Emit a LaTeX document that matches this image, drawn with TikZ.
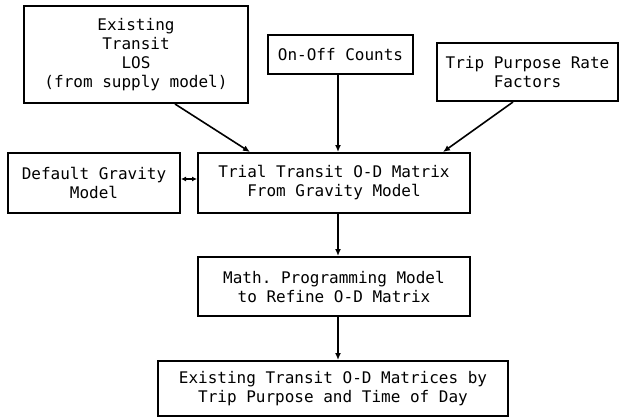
\documentclass[tikz,border=0pt]{standalone}
\usepackage{fontspec}
\setmonofont{DejaVu Sans Mono}
\usetikzlibrary{arrows.meta,positioning}

\begin{document}
\begin{tikzpicture}
[x=1pt,y=-1pt,
box/.style={draw=black,line width=2pt,align=center,inner sep=2pt,
  font=\ttfamily\fontsize{16}{19}\selectfont},
flow/.style={line width=1.6pt,-{Latex[length=7pt,width=6pt]}}]

\useasboundingbox (0,0) rectangle (619,418);

\node[box,minimum width=224pt,minimum height=97pt] (los) at (136,54.5)
  {Existing\\Transit\\LOS\\(from supply model)};
\node[box,minimum width=145pt,minimum height=39pt] (counts) at (340.5,54.5)
  {On-Off Counts};
\node[box,minimum width=181pt,minimum height=58pt] (purpose) at (527.5,72)
  {Trip Purpose Rate\\Factors};

\node[box,minimum width=172pt,minimum height=60pt] (gravity) at (94,183)
  {Default Gravity\\Model};
\node[box,minimum width=272pt,minimum height=60pt] (trial) at (334,183)
  {Trial Transit O-D Matrix\\From Gravity Model};

\node[box,minimum width=272pt,minimum height=59pt] (math) at (334,286.5)
  {Math. Programming Model\\to Refine O-D Matrix};

\node[box,minimum width=350pt,minimum height=55pt] (result) at (333,388.5)
  {Existing Transit O-D Matrices by\\Trip Purpose and Time of Day};

\draw [flow] ([xshift=39pt]los.south) -- ([xshift=-84pt]trial.north);
\draw [flow] ([xshift=-2.5pt]counts.south) -- ([xshift=4pt]trial.north);
\draw [flow] ([xshift=-14.5pt]purpose.south) -- ([xshift=109pt]trial.north);

\draw [line width=1.6pt,{Latex[length=5pt,width=5pt]}-{Latex[length=5pt,width=5pt]}]
  ([yshift=4pt]gravity.east) -- ([yshift=4pt]trial.west);

\draw [flow] ([xshift=4pt]trial.south) -- ([xshift=4pt]math.north);
\draw [flow] ([xshift=4pt]math.south) -- ([xshift=5pt]result.north);
\end{tikzpicture}
\end{document}
